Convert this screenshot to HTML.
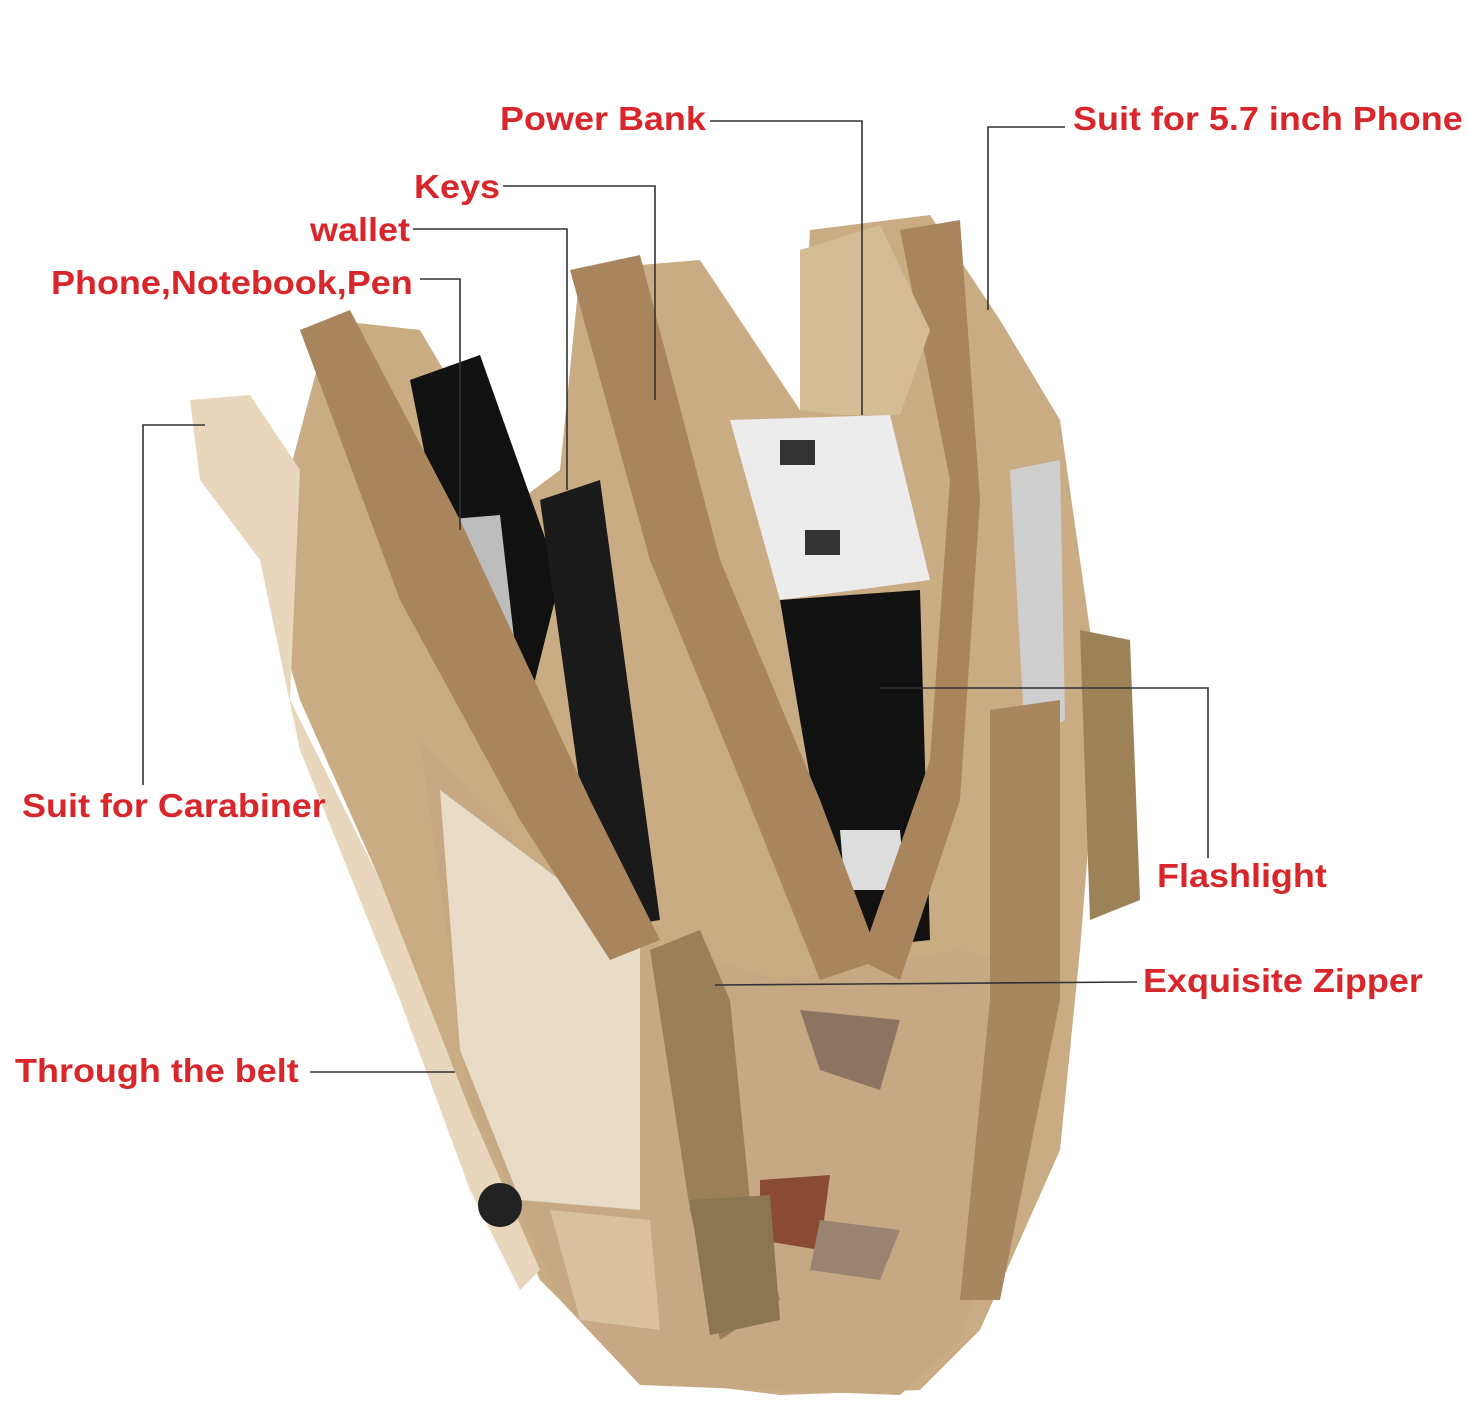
<!DOCTYPE html>
<html><head><meta charset="utf-8"><style>
html,body{margin:0;padding:0;background:#fff;}
.wrap{position:relative;width:1468px;height:1404px;overflow:hidden;}
svg{position:absolute;left:0;top:0;}
.l{position:absolute;font-family:"Liberation Sans",Arial,sans-serif;font-weight:bold;font-size:33px;color:#d8262b;white-space:nowrap;line-height:1;transform:scaleX(1.09);transform-origin:0 0;}
</style></head><body><div class="wrap">
<svg width="1468" height="1404" viewBox="0 0 1468 1404">
<polygon points="290,470 330,320 420,330 520,500 560,470 580,270 700,260 800,410 810,230 930,215 1000,320 1060,420 1100,700 1080,950 1060,1150 980,1330 920,1390 780,1395 660,1380 560,1300 540,1280 470,1120 380,880 300,700 260,560" fill="#c9ab84"/>
<polygon points="190,400 250,395 300,470 290,700 380,880 470,1110 540,1270 520,1290 470,1190 400,1000 300,750 260,560 200,480" fill="#e8d7bc"/>
<polygon points="420,740 600,930 780,980 960,950 1000,960 990,1250 960,1340 900,1395 640,1385 560,1300 470,1100" fill="#c7a884"/>
<polygon points="440,790 640,940 640,1210 520,1200 460,1050" fill="#e8dcc6"/>
<polygon points="800,1010 900,1020 880,1090 820,1070" fill="#8d7460"/>
<polygon points="760,1180 830,1175 820,1250 760,1240" fill="#8a4a34"/>
<polygon points="820,1220 900,1230 880,1280 810,1270" fill="#9a8470"/>
<polygon points="550,1210 650,1220 660,1330 580,1320" fill="#d9c1a0"/>
<polygon points="410,380 480,355 560,580 530,700 470,680" fill="#111"/>
<polygon points="440,520 500,515 520,690 470,690" fill="#bdbdbd"/>
<polygon points="540,500 600,480 660,920 600,930" fill="#1a1a1a"/>
<polygon points="730,420 890,415 930,580 780,600" fill="#ececec"/>
<rect x="780" y="440" width="35" height="25" fill="#333"/>
<rect x="805" y="530" width="35" height="25" fill="#333"/>
<polygon points="780,600 920,590 930,940 840,950 800,720" fill="#111"/>
<polygon points="840,830 900,830 905,890 845,890" fill="#ddd"/>
<polygon points="1010,470 1060,460 1065,720 1025,740" fill="#cfcfcf"/>
<polygon points="300,330 350,310 460,520 590,800 660,940 610,960 520,820 400,600" fill="#a9855e"/>
<polygon points="570,270 640,255 720,560 820,800 880,960 820,980 740,780 650,560" fill="#a9855e"/>
<polygon points="900,230 960,220 980,500 960,800 900,980 860,960 930,760 950,480" fill="#a9855e"/>
<polygon points="800,250 880,225 930,330 900,415 840,415 800,410" fill="#d4bc96"/>
<polygon points="990,710 1060,700 1060,1000 1000,1300 960,1300 990,1000" fill="#a88660"/>
<polygon points="1080,630 1130,640 1140,900 1090,920" fill="#9d8258"/>
<polygon points="650,950 700,930 730,1000 750,1200 780,1300 720,1340 690,1210" fill="#9a7f58"/>
<polygon points="690,1200 770,1195 780,1320 710,1335" fill="#8b7553"/>
<circle cx="500" cy="1205" r="22" fill="#222"/>
<g stroke="#333" stroke-width="1.6" fill="none">
<polyline points="710,121 862,121 862,415"/>
<polyline points="1065,127 988,127 988,310"/>
<polyline points="503,186 655,186 655,400"/>
<polyline points="413,229 567,229 567,490"/>
<polyline points="420,279 460,279 460,530"/>
<polyline points="143,785 143,425 205,425"/>
<polyline points="1208,858 1208,688 880,688"/>
<polyline points="1137,982 715,985"/>
<polyline points="310,1072 455,1072"/>
</g>
</svg>
<div class="l" style="left:500px;top:102px">Power Bank</div>
<div class="l" style="left:1073px;top:102px">Suit for 5.7 inch Phone</div>
<div class="l" style="left:414px;top:170px">Keys</div>
<div class="l" style="left:310px;top:213px">wallet</div>
<div class="l" style="left:51px;top:266px">Phone,Notebook,Pen</div>
<div class="l" style="left:22px;top:789px">Suit for Carabiner</div>
<div class="l" style="left:1157px;top:859px">Flashlight</div>
<div class="l" style="left:1143px;top:964px">Exquisite Zipper</div>
<div class="l" style="left:15px;top:1054px">Through the belt</div>
</div></body></html>
